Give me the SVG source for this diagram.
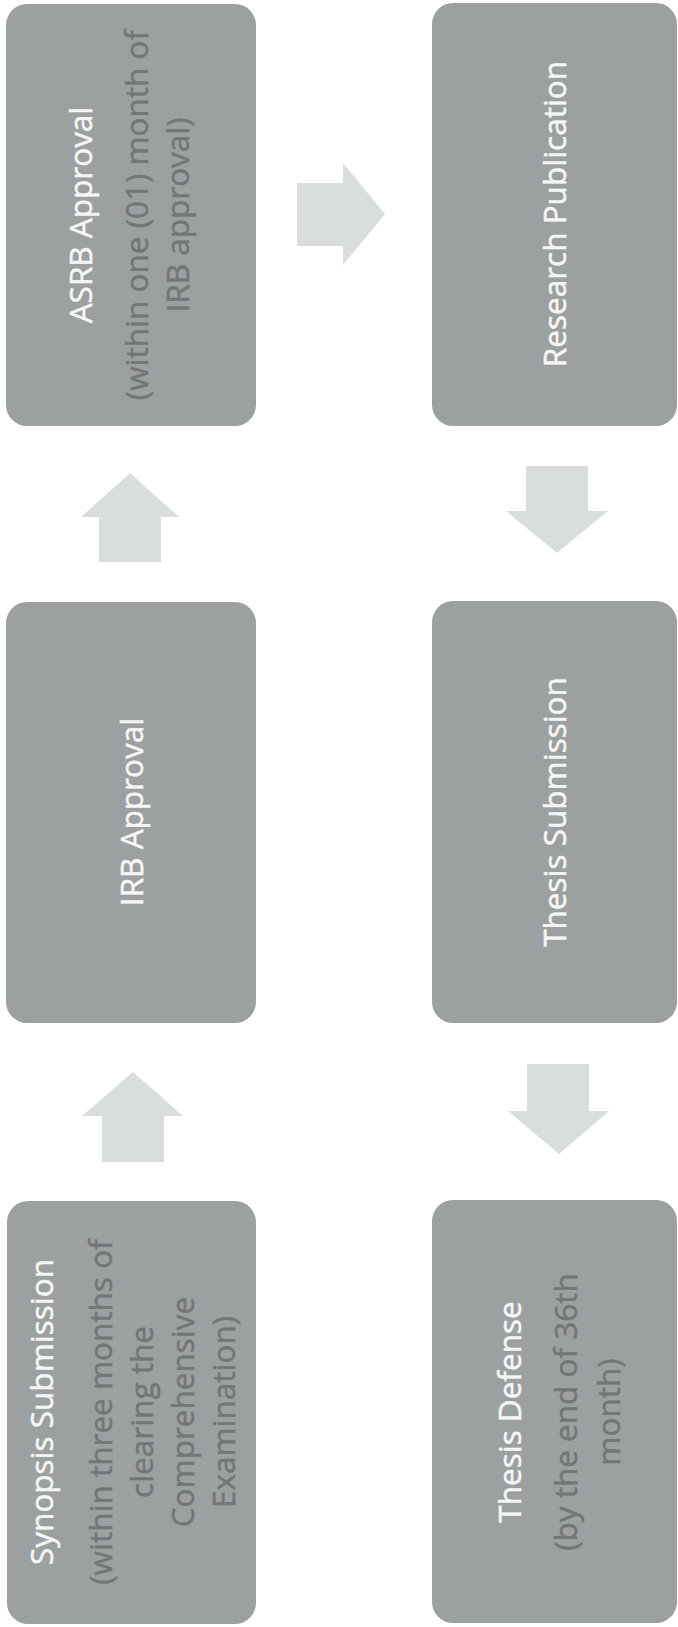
<svg xmlns="http://www.w3.org/2000/svg" width="678" height="1627" viewBox="0 0 678 1627">
<style>
.box{fill:#9da0a0;}
.arr{fill:#dadddd;}
text{font-family:"Open Sans","Noto Sans","Liberation Sans",sans-serif;font-size:31.5px;text-anchor:middle;stroke-width:0.5px;}
.t{fill:#f6f6f6;stroke:#f6f6f6;}
.s{fill:#737676;stroke:#737676;}
</style>
<rect width="678" height="1627" fill="#ffffff"/>
<g id="connectors">
<polygon class="arr" points="297,183 343,183 343,163 385,214 343,265 343,246 297,246"/>
<polygon class="arr" points="130,473 179,517 161,517 161,562 99,562 99,517 81,517"/>
<polygon class="arr" points="133,1072 183,1116 164,1116 164,1162 102,1162 102,1116 82,1116"/>
<polygon class="arr" points="526,466 588,466 588,511 608,511 557,553 506,511 526,511"/>
<polygon class="arr" points="527,1064 589,1064 589,1111 609,1111 559,1154 508,1111 527,1111"/>
</g>
<g id="asrb">
<rect class="box" x="6" y="4" width="250" height="422" rx="21"/>
<g transform="translate(0,215) rotate(-90)">
<text class="t" x="0" y="92">ASRB Approval</text>
<text class="s" x="0" y="148">(within one (01) month of</text>
<text class="s" x="0" y="189">IRB approval)</text>
</g>
</g>
<g id="research">
<rect class="box" x="432" y="3" width="245" height="423" rx="21"/>
<text class="t" transform="translate(566,214) rotate(-90)">Research Publication</text>
</g>
<g id="irb">
<rect class="box" x="6" y="602" width="250" height="421" rx="21"/>
<text class="t" transform="translate(143,812) rotate(-90)">IRB Approval</text>
</g>
<g id="thesis-submission">
<rect class="box" x="432" y="601" width="245" height="422" rx="21"/>
<text class="t" transform="translate(566,812) rotate(-90)">Thesis Submission</text>
</g>
<g id="synopsis">
<rect class="box" x="7" y="1201" width="249" height="423" rx="21"/>
<g transform="translate(0,1412) rotate(-90)">
<text class="t" x="0" y="53">Synopsis Submission</text>
<text class="s" x="0" y="112">(within three months of</text>
<text class="s" x="0" y="153">clearing the</text>
<text class="s" x="0" y="194">Comprehensive</text>
<text class="s" x="0" y="235">Examination)</text>
</g>
</g>
<g id="thesis-defense">
<rect class="box" x="432" y="1200" width="245" height="423" rx="21"/>
<g transform="translate(0,1412) rotate(-90)">
<text class="t" x="0" y="521">Thesis Defense</text>
<text class="s" x="0" y="577">(by the end of 36th</text>
<text class="s" x="0" y="620">month)</text>
</g>
</g>
</svg>
